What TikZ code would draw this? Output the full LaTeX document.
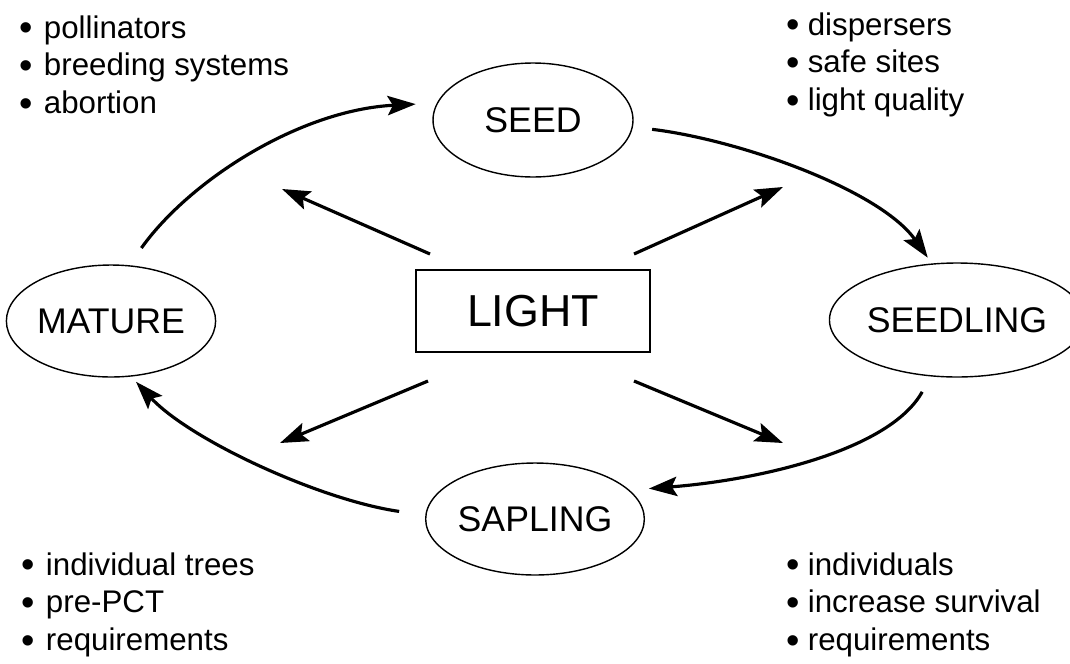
\documentclass[tikz,border=0pt]{standalone}
\usepackage{fontspec}
\usepackage{graphicx}
\setmainfont{Liberation Sans}
\usetikzlibrary{shapes.geometric,arrows.meta}
\newcommand\blt{\raisebox{-0.07em}{\scalebox{1.22}{\textbullet}}}
\begin{document}
\begin{tikzpicture}[x=0.02cm,y=-0.02cm,
  stage/.style={ellipse,draw,line width=0.8pt,inner sep=0pt,font=\fontsize{20.3}{24}\selectfont},
  cyc/.style={line width=1.8pt,-{Stealth[length=16pt,width=11pt,inset=3pt]}},
  ray/.style={line width=1.8pt,-{Stealth[length=16pt,width=11pt,inset=3pt]}},
  notes/.style={anchor=north west,inner sep=0pt,align=left,font=\fontsize{17.8}{21.6}\selectfont}]
  \useasboundingbox (0,0) rectangle (1070,663);

  % life stages
  \node[stage,minimum width=4cm,minimum height=2.28cm] (seed) at (533,120) {SEED};
  \node[stage,minimum width=4.4cm,minimum height=2.28cm] (seedling) at (957,320) {SEEDLING};
  \node[stage,minimum width=3.92cm,minimum height=2.24cm] (sapling) at (535,519) {SAPLING};
  \node[stage,minimum width=4.04cm,minimum height=2.24cm] (mature) at (111,321) {MATURE};
  \node[draw,line width=0.8pt,minimum width=4.68cm,minimum height=1.64cm,font=\fontsize{25.5}{30}\selectfont] (light) at (533,311) {LIGHT};

  % notes
  \node[notes] (pollin) at (19,15) {\blt\hspace{0.36em}pollinators\\\blt\hspace{0.36em}breeding systems\\\blt\hspace{0.36em}abortion};
  \node[notes] (dispers) at (786,12) {\blt\hspace{0.26em}dispersers\\\blt\hspace{0.26em}safe sites\\\blt\hspace{0.26em}light quality};
  \node[notes] (trees) at (21,552) {\blt\hspace{0.36em}individual trees\\\blt\hspace{0.36em}pre-PCT\\\blt\hspace{0.36em}requirements};
  \node[notes] (indiv) at (786,552) {\blt\hspace{0.26em}individuals\\\blt\hspace{0.26em}increase survival\\\blt\hspace{0.26em}requirements};

  % ends of the light rays
  \coordinate (nw1) at (430,254);  \coordinate (nw2) at (282,189);
  \coordinate (ne1) at (634,254);  \coordinate (ne2) at (783,187);
  \coordinate (sw1) at (428,381);  \coordinate (sw2) at (280,443);
  \coordinate (se1) at (634,381);  \coordinate (se2) at (783,443);
  \foreach \a/\b in {nw1/nw2,ne1/ne2,sw1/sw2,se1/se2}{\draw[ray] (\a) -- (\b); }

  % the cycle
  \draw[cyc,shorten <=11pt,shorten >=4pt] (seed.-4) .. controls (740,140) and (880,190) .. (seedling.114);
  \draw[cyc,shorten <=10pt,shorten >=11pt] (seedling.-115) .. controls (890,450) and (760,480) .. (sapling.17);
  \draw[cyc,shorten <=15pt,shorten >=4pt] (sapling.178) .. controls (320,500) and (190,440) .. (mature.-70);
  \draw[cyc,shorten <=12pt,shorten >=12pt] (mature.72) .. controls (190,180) and (300,110) .. (seed.170);
\end{tikzpicture}
\end{document}
